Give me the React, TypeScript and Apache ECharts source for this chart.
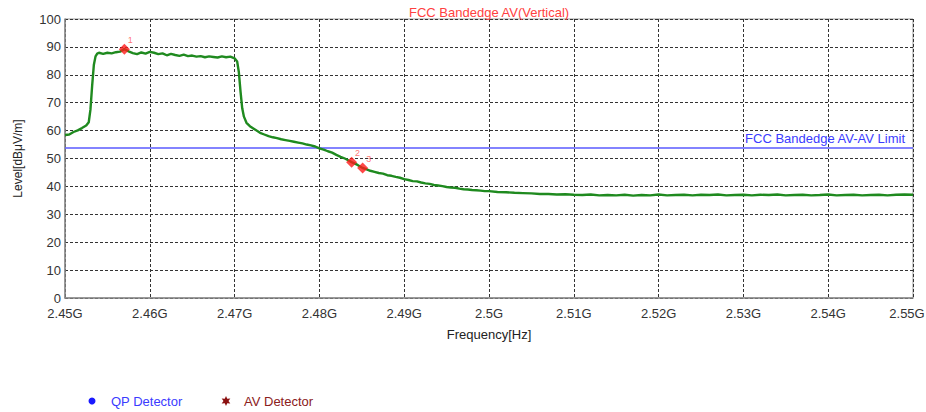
import React, { useEffect, useRef } from "react";
import * as echarts from "echarts";

const freqsMHz = [
  2450.0, 2450.5, 2451.0, 2451.5, 2452.0, 2452.5, 2452.8, 2453.0, 2453.2, 2453.4, 2453.6, 2453.8,
  2454.0, 2454.5, 2455.0, 2455.5, 2456.0, 2456.5, 2457.0, 2457.5, 2458.0, 2458.5, 2459.0, 2459.5,
  2460.0, 2460.5, 2461.0, 2461.5, 2462.0, 2462.5, 2463.0, 2463.5, 2464.0, 2464.5, 2465.0, 2465.5,
  2466.0, 2466.5, 2467.0, 2467.5, 2468.0, 2468.5, 2469.0, 2469.5, 2470.0, 2470.3, 2470.5, 2470.7,
  2470.9, 2471.1, 2471.4, 2471.8, 2472.3, 2473.0, 2473.5, 2474.0, 2474.5, 2475.0, 2475.5, 2476.0,
  2476.5, 2477.0, 2477.5, 2478.0, 2478.5, 2479.0, 2479.5, 2480.0, 2480.5, 2481.0, 2481.5, 2482.0,
  2482.5, 2483.0, 2483.5, 2483.8, 2484.5, 2485.1, 2485.5, 2486.0, 2486.5, 2487.0, 2487.5, 2488.0,
  2488.5, 2489.0, 2489.5, 2490.0, 2490.5, 2491.0, 2491.5, 2492.0, 2492.5, 2493.0, 2493.5, 2494.0,
  2494.5, 2495.0, 2495.5, 2496.0, 2496.5, 2497.0, 2497.5, 2498.0, 2498.5, 2499.0, 2499.5, 2500.0,
  2501, 2502, 2503, 2504, 2505, 2506, 2507, 2508, 2509, 2510, 2511, 2512, 2513, 2514, 2515, 2516,
  2517, 2518, 2519, 2520, 2521, 2522, 2523, 2524, 2525, 2526, 2527, 2528, 2529, 2530, 2531, 2532,
  2533, 2534, 2535, 2536, 2537, 2538, 2539, 2540, 2541, 2542, 2543, 2544, 2545, 2546, 2547, 2548,
  2549, 2550,
];

const levels = [
  58.4, 58.6, 59.5, 60.1, 60.9, 61.8, 63.0, 67.5, 76.0, 83.5, 86.6, 87.6,
  87.9, 87.5, 87.9, 87.7, 88.1, 88.3, 89.2, 88.4, 87.8, 87.4, 88.0, 87.6,
  88.2, 87.9, 87.4, 87.7, 87.0, 87.5, 87.1, 86.8, 87.2, 86.7, 86.9, 86.5,
  86.7, 86.3, 86.6, 86.4, 86.2, 86.6, 86.3, 86.5, 85.9, 84.8, 81.0, 74.0,
  68.0, 65.0, 62.8, 61.6, 60.6, 59.2, 58.6, 58.0, 57.6, 57.3, 56.9, 56.6,
  56.3, 56.0, 55.7, 55.4, 55.0, 54.7, 54.3, 53.6, 53.2, 52.6, 52.1, 51.3,
  50.6, 50.0, 49.2, 48.7, 47.7, 46.6, 46.2, 45.6, 45.2, 44.8, 44.6, 44.0,
  43.8, 43.4, 43.1, 42.6, 42.3, 41.9, 41.8, 41.4, 41.1, 40.9, 40.5, 40.3,
  40.1, 39.8, 39.6, 39.5, 39.2, 39.0, 38.9, 38.7, 38.6, 38.5, 38.3, 38.3,
  38.0, 37.9, 37.7, 37.6, 37.5, 37.3, 37.3, 37.1, 37.2, 37.0, 36.9, 37.1, 36.8, 36.9, 36.8, 37.0,
  36.7, 36.9, 36.8, 37.1, 36.8, 36.9, 37.0, 36.8, 37.0, 36.9, 37.1, 36.8, 36.9, 37.0, 36.8, 37.0,
  36.9, 37.1, 36.8, 36.9, 37.0, 36.8, 36.9, 37.1, 36.8, 36.9, 37.0, 36.8, 36.9, 37.0, 36.8, 37.0,
  37.1, 37.0,
];

const limitLevel = 54;
const limitName = "FCC Bandedge AV-AV Limit";
const markerFreqs = [2457.0, 2483.8, 2485.1];
const markerLevels = [89.2, 48.7, 46.6];
const markerNames = ["1", "2", "3"];

const titleText = "FCC Bandedge AV(Vertical)";
const xName = "Frequency[Hz]";
const yName = "Level[dBμV/m]";
const legendNames = ["QP Detector", "AV Detector"];

const FONT = "'Liberation Sans', Arial, sans-serif";

function starPoints(cx: number, cy: number, ro: number, ri: number, n: number) {
  const pts: number[][] = [];
  for (let i = 0; i < n * 2; i++) {
    const r = i % 2 === 0 ? ro : ri;
    const a = (Math.PI * i) / n - Math.PI / 2;
    pts.push([cx + r * Math.cos(a), cy + r * Math.sin(a)]);
  }
  return pts;
}

export default function App() {
  const ref = useRef<HTMLDivElement>(null);
  useEffect(() => {
    if (!ref.current) return;
    const chart = echarts.init(ref.current, null, { renderer: "svg" });
    const curve = freqsMHz.map((f, i) => [f, levels[i]]);
    const markers = markerFreqs.map((f, i) => ({ name: markerNames[i], value: [f, markerLevels[i]] }));
    chart.setOption({
      animation: false,
      backgroundColor: "#ffffff",
      title: {
        text: titleText,
        left: 404,
        top: 1,
        textStyle: { color: "#ff4040", fontSize: 13, fontWeight: "normal", fontFamily: FONT },
      },
      grid: {
        left: 65,
        right: 13,
        top: 19,
        bottom: 114,
        show: true,
        borderColor: "#999",
        borderWidth: 1,
        outerBoundsMode: "none",
        containLabel: false,
      },
      xAxis: {
        type: "value",
        min: 2450,
        max: 2550,
        interval: 10,
        name: xName,
        nameLocation: "middle",
        nameGap: 30,
        nameTextStyle: { color: "#222", fontSize: 13, fontFamily: FONT },
        axisLine: { show: true, lineStyle: { color: "#888", width: 1.5 } },
        axisTick: { show: false },
        axisLabel: {
          color: "#333",
          fontSize: 13,
          fontFamily: FONT,
          margin: 9,
          formatter: (v: number) => (v >= 2550 ? `{last|${v / 1000}G}` : `${v / 1000}G`),
          rich: {
            last: { color: "#333", fontSize: 13, fontFamily: FONT, padding: [0, 12, 0, 0] },
          },
        },
        splitLine: { show: true, lineStyle: { color: "#333", type: [3, 2], width: 1 } },
      },
      yAxis: {
        type: "value",
        min: 0,
        max: 100,
        interval: 10,
        name: yName,
        nameLocation: "middle",
        nameGap: 41,
        nameTextStyle: { color: "#222", fontSize: 12, fontFamily: FONT },
        axisLine: { show: true, lineStyle: { color: "#888", width: 1.5 } },
        axisTick: { show: false },
        axisLabel: { color: "#333", fontSize: 13, fontFamily: FONT, margin: 4 },
        splitLine: { show: true, lineStyle: { color: "#333", type: [3, 2], width: 1 } },
      },
      series: [
        {
          type: "line",
          name: "trace",
          data: curve,
          showSymbol: false,
          lineStyle: { color: "#1f8a1f", width: 2.4 },
          z: 3,
          markLine: {
            silent: true,
            symbol: "none",
            data: [{ yAxis: limitLevel }],
            lineStyle: { color: "#5a5aff", width: 1.5, type: "solid" },
            label: {
              show: true,
              position: "insideEndTop",
              formatter: limitName,
              color: "#3b3bff",
              fontSize: 13,
              fontFamily: FONT,
              distance: [8, 2],
            },
            z: 2,
          },
        },
        {
          type: "scatter",
          name: "markers",
          data: markers,
          symbol: "diamond",
          symbolSize: 11,
          itemStyle: { color: "#ff1a1a" },
          z: 5,
          label: {
            show: true,
            formatter: (p: any) => p.name,
            position: [9, -8],
            color: "#ff5050",
            fontSize: 9,
            fontFamily: FONT,
          },
        },
      ],
      graphic: [
        { type: "circle", shape: { cx: 92, cy: 401, r: 3.5 }, style: { fill: "#1a1aff" } },
        {
          type: "text",
          x: 111,
          y: 401,
          style: { text: legendNames[0], fill: "#3b3bff", fontSize: 13, fontFamily: FONT, verticalAlign: "middle" },
        },
        {
          type: "polygon",
          shape: { points: starPoints(226, 401, 5, 2.5, 6) },
          style: { fill: "#8b1010" },
        },
        {
          type: "text",
          x: 244,
          y: 401,
          style: { text: legendNames[1], fill: "#8b2020", fontSize: 13, fontFamily: FONT, verticalAlign: "middle" },
        },
      ],
    });
    return () => chart.dispose();
  }, []);
  return (
    <div
      ref={ref}
      style={{ position: "absolute", left: 0, top: 0, width: 926, height: 412, background: "#fff" }}
    />
  );
}
